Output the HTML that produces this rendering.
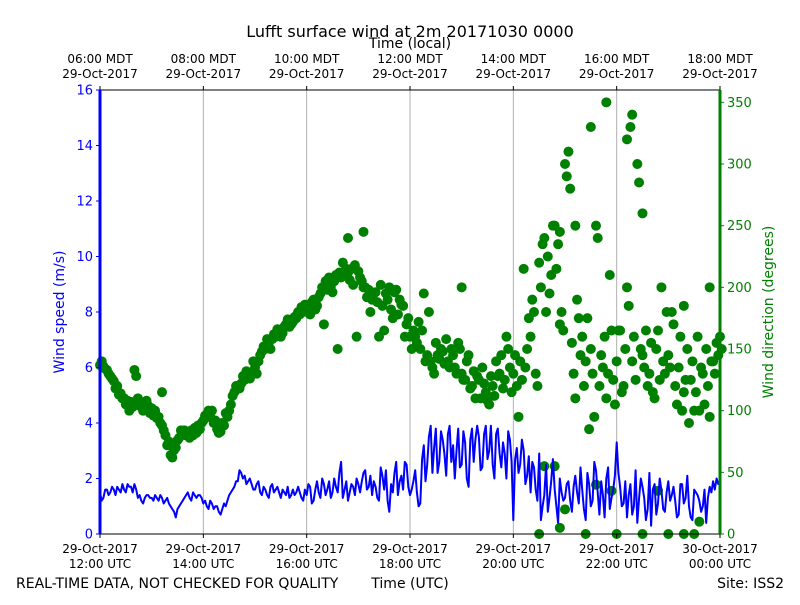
<!DOCTYPE html>
<html><head><meta charset="utf-8"><style>
body{margin:0;background:#fff;font-family:"Liberation Sans","DejaVu Sans",sans-serif}
svg text{font-family:"DejaVu Sans","Liberation Sans",sans-serif}
</style></head><body>
<svg id="chart" width="800" height="600" xmlns="http://www.w3.org/2000/svg">
<rect width="800" height="600" fill="#fff"/>
<g id="grid"></g>
<g id="dirs"></g>
<g id="speed"></g>
<g id="axes"></g>
</svg>
<script>
const speedValues=[1.5,1.3,1.6,1.5,1.6,1.7,1.5,1.6,1.8,1.7,1.8,1.3,1.2,1.3,1.4,
1.3,1.4,1.2,1.3,1.2,1.1,0.9,0.6,1.0,1.2,1.4,1.3,1.5,1.3,1.4,
1.1,1.0,1.2,0.9,1.0,0.7,1.1,1.2,1.5,1.7,1.9,2.2,2.1,1.9,1.8,
1.6,1.9,1.4,1.6,1.3,1.8,1.6,1.5,1.6,1.4,1.3,1.6,1.5,1.5,1.2,
1.4,1.7,1.2,1.9,1.3,1.8,1.6,1.3,2.0,1.5,2.6,1.6,1.2,1.8,1.4,
1.8,1.9,2.3,1.7,1.4,1.7,1.2,2.1,2.3,0.8,1.5,2.6,1.9,1.6,2.5,
1.4,1.9,1.5,1.1,3.2,2.5,3.9,3.1,2.2,3.7,2.9,3.6,2.6,2.0,3.8,
2.5,3.3,1.7,3.8,3.4,3.5,2.4,3.9,3.0,2.5,3.6,2.9,3.3,2.0,3.4,
0.5,3.1,2.5,3.0,2.1,1.5,2.4,1.2,0.5,1.4,0.8,1.9,1.6,0.4,1.5,
1.3,1.9,0.8,2.1,1.1,1.6,0.5,1.8,1.2,2.3,0.7,1.4,2.0,0.9,1.6,
3.3,1.7,1.1,0.6,1.8,1.0,0.4,2.0,1.3,0.9,0.3,1.8,1.1,1.6,0.8,
1.9,1.4,1.2,0.7,1.8,1.3,1.0,0.5,1.5,1.2,1.0,0.4,1.7,1.9,2.0,1.9];
const speedValues2=[1.2,1.6,1.4,1.7,1.4,1.6,1.8,1.5,1.7,1.5,1.6,1.4,1.1,1.4,1.3,
1.2,1.3,1.4,1.1,1.3,1.0,0.8,0.9,1.1,1.3,1.5,1.2,1.4,1.4,1.3,
1.2,0.9,1.1,1.0,0.8,0.9,1.0,1.4,1.6,1.9,2.3,2.0,1.8,2.0,1.6,
1.8,1.5,1.7,1.4,1.7,1.5,1.7,1.3,1.5,1.7,1.4,1.4,1.7,1.3,1.6,
1.8,1.1,1.6,1.5,2.0,1.4,1.9,1.5,1.7,2.2,1.3,1.9,1.5,1.7,2.0,
1.5,2.2,1.6,2.1,1.9,1.3,2.4,1.6,1.2,1.8,2.2,1.4,2.1,2.6,1.7,
1.6,2.3,1.0,2.7,1.9,3.5,2.2,3.8,2.6,3.4,2.1,3.9,3.2,3.0,2.4,
3.7,2.0,3.4,2.6,3.9,2.3,3.6,2.7,3.9,2.0,3.8,2.4,2.9,3.7,2.6,
2.7,2.2,3.4,1.8,2.8,2.6,1.6,2.9,1.0,2.5,1.3,2.7,1.0,2.0,1.2,
1.8,1.2,1.7,1.5,2.4,0.9,2.2,1.0,2.6,1.5,1.9,0.6,2.4,1.3,2.1,
2.2,1.0,1.9,1.4,0.7,2.3,1.3,1.7,0.5,2.2,1.6,0.7,2.0,0.9,1.5,
1.2,1.7,0.6,1.8,1.1,2.1,0.6,1.6,1.4,0.8,1.6,1.3,1.5,1.6,1.8];
const dirValues=[137,136,133,128,124,120,114,110,108,107,133,110,106,103,104,
102,100,95,88,80,75,62,70,78,82,80,78,80,82,85,
92,97,95,90,85,83,88,95,105,115,120,122,125,128,130,
135,140,148,150,155,158,160,165,163,170,168,172,175,178,180,
185,178,190,185,195,170,198,200,205,150,208,210,212,215,218,
213,205,200,198,190,196,160,185,195,200,175,198,190,185,170,
160,165,155,150,195,145,140,130,145,150,138,140,150,135,155,
130,125,145,120,110,125,135,115,105,120,140,130,118,160,135,
130,120,140,215,150,160,180,120,200,240,225,210,250,235,180,
300,310,155,110,175,160,140,85,130,250,120,135,110,210,125,
140,165,120,200,330,160,300,150,135,120,155,110,165,200,130,
145,180,120,135,100,125,90,140,115,100,130,150,95,140,155,160];
const dirValues2=[140,134,130,126,118,113,110,105,100,103,128,104,100,108,98,
96,94,90,84,72,64,68,76,84,84,82,84,86,88,90,
96,100,100,92,82,90,98,100,112,120,118,128,132,126,140,
130,145,152,158,150,162,166,160,168,174,170,176,180,184,186,
180,188,182,192,200,205,208,196,210,212,220,215,206,202,160,
208,200,192,180,195,188,202,165,190,182,196,178,186,160,175,
150,160,172,165,140,180,135,155,142,148,158,135,145,130,150,
125,140,118,132,128,110,122,108,128,112,128,145,125,150,115,
145,95,125,135,175,190,130,220,235,180,195,250,215,170,165,
290,280,130,190,145,120,175,150,95,240,145,160,130,165,105,
165,115,150,185,140,125,285,145,165,130,115,150,125,140,180,
135,170,105,160,115,150,125,100,160,135,105,120,140,130,145,150];
const extraHours=[20.9,21.0,21.4,21.6,22.0,22.5,22.8,23.0,23.3,23.5,23.6,20.5,20.8,21.2,20.9,22.3,21.8,22.5,23.3,21.9,12.6,14.1,13.2,20.6,19.0,17.1,16.8,21.5,22.2,23.8];
const extraDirs=[5,20,0,40,0,0,35,0,0,0,10,0,55,250,245,340,350,260,185,35,107,95,115,55,200,245,240,330,320,200];
const bottomTicks=["29-Oct-2017\n12:00 UTC","29-Oct-2017\n14:00 UTC","29-Oct-2017\n16:00 UTC","29-Oct-2017\n18:00 UTC","29-Oct-2017\n20:00 UTC","29-Oct-2017\n22:00 UTC","30-Oct-2017\n00:00 UTC"];
const topTicks=["06:00 MDT\n29-Oct-2017","08:00 MDT\n29-Oct-2017","10:00 MDT\n29-Oct-2017","12:00 MDT\n29-Oct-2017","14:00 MDT\n29-Oct-2017","16:00 MDT\n29-Oct-2017","18:00 MDT\n29-Oct-2017"];
const speedTicks=[0,2,4,6,8,10,12,14,16];
const dirTicks=[0,50,100,150,200,250,300,350];

const L=100,R=720,T=90,B=534;
const xH=h=>L+(h-12)/12*(R-L);
const yS=v=>B-v/16*(B-T);
const yD=v=>B-v/360*(B-T);
const NS="http://www.w3.org/2000/svg";
function mk(tag,attrs,parent,txt){const e=document.createElementNS(NS,tag);for(const k in attrs)e.setAttribute(k,attrs[k]);if(txt!==undefined)e.textContent=txt;parent.appendChild(e);return e;}
const grid=document.getElementById('grid'),dirs=document.getElementById('dirs'),speed=document.getElementById('speed'),axes=document.getElementById('axes');

for(let i=1;i<6;i++){const x=xH(12+i*2);
const g=mk('line',{x1:x,x2:x,y1:T,y2:B,stroke:'#b0b0b0','stroke-width':1},grid);

}

const step=4/60, half=2/60;
function dot(h,d){const c=mk('circle',{cx:xH(h),cy:yD(d),r:5,fill:'#008000'},dirs);

}
dirValues.forEach((d,i)=>dot(12+i*step,d));
dirValues2.forEach((d,i)=>dot(12+i*step+half,d));
extraHours.forEach((h,i)=>dot(h,extraDirs[i]));

const sp=[];
speedValues.forEach((v,i)=>{sp.push([12+i*step,v]);if(i<speedValues2.length)sp.push([12+i*step+half,speedValues2[i]]);});
const pts=sp.map(p=>xH(p[0]).toFixed(1)+','+yS(p[1]).toFixed(1)).join(' ');
const pl=mk('polyline',{points:pts,fill:'none',stroke:'#0000ff','stroke-width':2,'stroke-linejoin':'round'},speed);



const fr=mk('rect',{x:L,y:T,width:R-L,height:B-T,fill:'none',stroke:'#000','stroke-width':1},axes);


const la=mk('line',{x1:L,x2:L,y1:T,y2:B,stroke:'#0000ff','stroke-width':3},axes);


const ra=mk('line',{x1:R,x2:R,y1:T,y2:B,stroke:'#008000','stroke-width':3},axes);



speedTicks.forEach(v=>{const y=yS(v);
mk('line',{x1:L-4,x2:L,y1:y,y2:y,stroke:'#0000ff'},axes);
const t=mk('text',{x:L-7,y:y+4.5,'text-anchor':'end','font-size':13,fill:'#0000ff'},axes,String(v));

});
dirTicks.forEach(v=>{const y=yD(v);
mk('line',{x1:R,x2:R+4,y1:y,y2:y,stroke:'#008000'},axes);
const t=mk('text',{x:R+7,y:y+4.5,'font-size':13,fill:'#008000'},axes,String(v));

});
bottomTicks.forEach((s,i)=>{const x=xH(12+i*2);
mk('line',{x1:x,x2:x,y1:B,y2:B+4,stroke:'#000'},axes);
const [a,b]=s.split('\n');
const t=mk('text',{x:x,y:B+19,'text-anchor':'middle','font-size':12},axes,a);


const t2=mk('text',{x:x,y:B+34,'text-anchor':'middle','font-size':12},axes,b);

});
topTicks.forEach((s,i)=>{const x=xH(12+i*2);
mk('line',{x1:x,x2:x,y1:T-4,y2:T,stroke:'#000'},axes);
const [a,b]=s.split('\n');
const t=mk('text',{x:x,y:T-27,'text-anchor':'middle','font-size':12},axes,a);


const t2=mk('text',{x:x,y:T-12,'text-anchor':'middle','font-size':12},axes,b);

});

const labels=[
 ['chart-title',410,37,'middle',16,'#000','Lufft surface wind at 2m 20171030 0000'],
 ['top-axis-title',410,48,'middle',14,'#000','Time (local)'],
 ['bottom-axis-title',410,588,'middle',14,'#000','Time (UTC)'],
 ['quality-note',16,588,'start',14,'#000','REAL-TIME DATA, NOT CHECKED FOR QUALITY'],
 ['site-label',784,588,'end',14,'#000','Site: ISS2']];
labels.forEach(l=>{const t=mk('text',{x:l[1],y:l[2],'text-anchor':l[3],'font-size':l[4],fill:l[5]},axes,l[6]);

});
const yl=mk('text',{x:0,y:0,'text-anchor':'middle','font-size':14,fill:'#0000ff',transform:'translate(64,312) rotate(-90)'},axes,'Wind speed (m/s)');


const yr=mk('text',{x:0,y:0,'text-anchor':'middle','font-size':14,fill:'#008000',transform:'translate(773,312) rotate(-90)'},axes,'Wind direction (degrees)');


</script>
</body></html>
